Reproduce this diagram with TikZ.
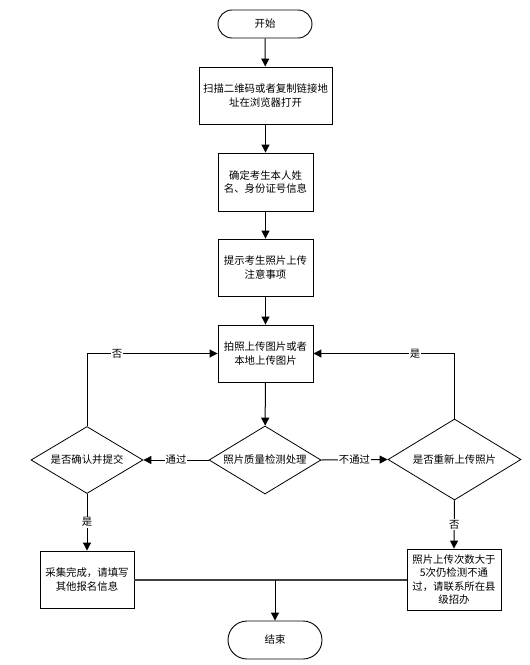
\documentclass[tikz,border=0pt]{standalone}
\usepackage{fontspec}
\setmainfont{Noto Sans CJK SC}
\usetikzlibrary{shapes.geometric,arrows.meta}
\begin{document}
\begin{tikzpicture}[x=1pt,y=-1pt,
  every node/.style={font=\fontsize{10.4}{13.4}\selectfont},
  box/.style={draw=black,line width=0.9pt,fill=white,inner sep=2pt,align=center},
  term/.style={draw=black,line width=0.9pt,rounded corners=14pt,minimum width=94pt,inner sep=0pt},
  dia/.style={draw=black,line width=0.8pt,shape=diamond,inner sep=0pt,shape aspect=1.6},
  arr/.style={draw=black,line width=1pt,-{Triangle[length=8pt,width=8pt]}},
  lbl/.style={fill=white,inner sep=1pt}]
\useasboundingbox (0,0) rectangle (530,665);
\node[term,minimum height=28pt] (start) at (265,24) {开始};
\node[box,minimum width=133pt,minimum height=57pt] (b1) at (265.5,95.5) {扫描二维码或者复制链接地\\址在浏览器打开};
\node[box,minimum width=95pt,minimum height=58pt] (b2) at (265.5,182) {确定考生本人姓\\名、身份证号信息};
\node[box,minimum width=95pt,minimum height=57pt] (b3) at (265.5,267.5) {提示考生照片上传\\注意事项};
\node[box,minimum width=95pt,minimum height=57pt] (b4) at (265.5,353.5) {拍照上传图片或者\\本地上传图片};
\node[dia,minimum width=112pt,minimum height=68pt] (d1) at (265,460) {照片质量检测处理};
\node[dia,minimum width=112pt,minimum height=67pt] (d2) at (87,460) {是否确认并提交};
\node[dia,minimum width=133pt,minimum height=81pt] (d3) at (454.5,459.5) {是否重新上传照片};
\node[box,minimum width=94pt,minimum height=57pt] (b5) at (87,579.5) {采集完成，请填写\\其他报名信息};
\node[box,minimum width=94pt,minimum height=61pt] (b6) at (454,579.5) {照片上传次数大于\\5次仍检测不通\\过，请联系所在县\\级招办};
\node[term,minimum height=38pt,rounded corners=19pt] (end) at (275,640) {结束};
\draw[arr] (start) -- (b1);
\draw[arr] (b1) -- (b2);
\draw[arr] (b2) -- (b3);
\draw[arr] (b3) -- (b4);
\draw[arr] (b4) -- (d1);
\draw[arr] (d1.west) -- node[lbl] {通过} (d2.east);
\draw[arr] (d1.east) -- node[lbl] {不通过} (d3.west);
\draw[arr] (d2.north) |- node[lbl,pos=0.615] {否} (b4.west);
\draw[arr] (d3.north) |- node[lbl,pos=0.64] {是} (b4.east);
\draw[arr] (d2.south) -- node[lbl] {是} (b5.north);
\draw[arr] (d3.south) -- node[lbl] {否} (b6.north);
\draw[draw=black!75,line width=2pt] (b5.east) -- (b6.west);
\coordinate (j) at (end.north |- b5.east);
\draw[arr] (j) -- (end.north);
\end{tikzpicture}
\end{document}
